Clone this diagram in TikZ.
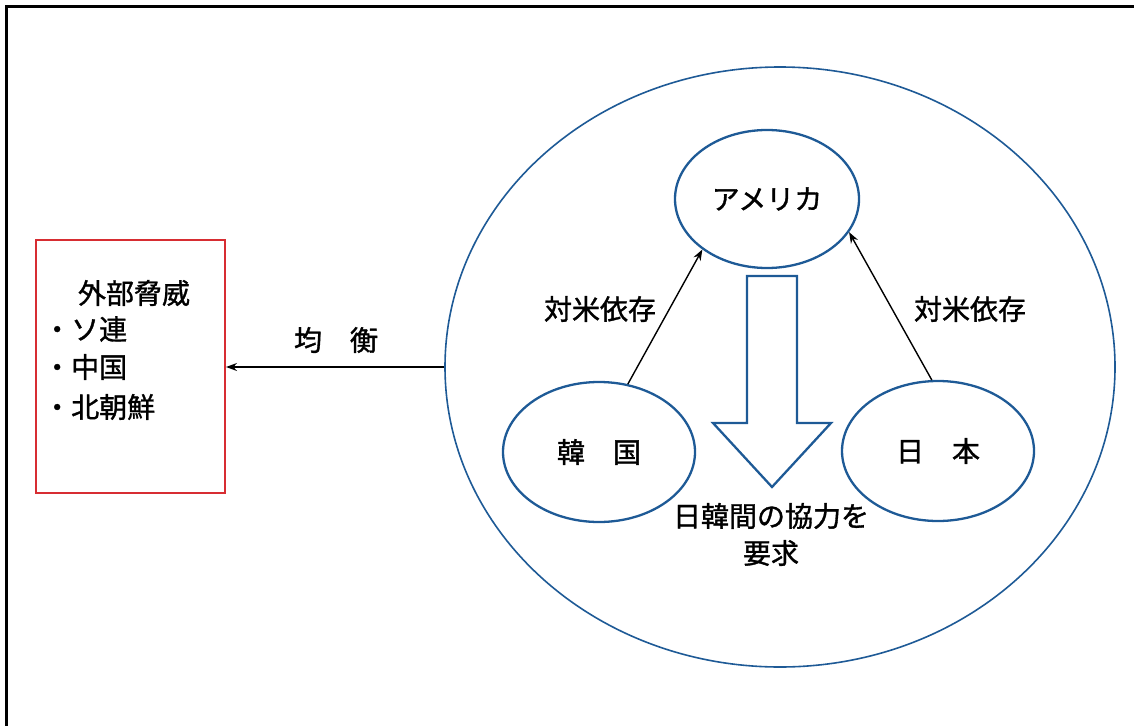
\documentclass[tikz,border=0pt]{standalone}
\usepackage{fontspec}
\newfontfamily\jp[FakeBold=1.2]{Noto Sans CJK JP}
\usetikzlibrary{arrows.meta,shapes.geometric}
\definecolor{cblue}{RGB}{30,90,150}
\definecolor{cred}{RGB}{215,45,50}
\begin{document}
\begin{tikzpicture}[x=1pt,y=-1pt,
  txt/.style={font=\jp\fontsize{28}{32}\selectfont, inner sep=0pt},
  ell/.style={ellipse, draw=cblue, line width=2.3pt, inner sep=0pt, txt},
  arr/.style={black, line width=1.4pt, -{Stealth[length=11pt,width=8pt]}}]
\useasboundingbox (0,0) rectangle (1134,725);
\clip (0,0) rectangle (1134,725);
\draw[line width=3pt] (6.2,7) rectangle (1200,800);
% big circle
\node[ellipse, draw=cblue, line width=1.6pt, minimum width=670pt, minimum height=600pt, inner sep=0pt] (world) at (780,367) {};
% threat box
\node[draw=cred, line width=2pt, minimum width=189pt, minimum height=253pt, inner sep=0pt] (threat) at (130.5,366.5) {};
\node[txt] (title) at (134,293) {外部脅威};
\node[txt, anchor=west] (b1) at (43,329) {・ソ連};
\node[txt, anchor=west] (b2) at (43,367) {・中国};
\node[txt, anchor=west] (b3) at (43,407) {・北朝鮮};
% balance arrow
\draw[arr] (world.west) -- (world.west -| threat.east);
\node[txt] (bal) at (336,340) {均　衡};
% countries
\node[ell, minimum width=184pt, minimum height=138pt] (usa) at (767,199) {アメリカ};
\node[ell, minimum width=192pt, minimum height=140pt] (korea) at (599,452) {韓　国};
\node[ell, minimum width=192pt, minimum height=140pt] (japan) at (938,451) {日　本};
\draw[arr] (korea.67) -- (usa.218);
\draw[arr] (japan.95) -- (usa.-22);
\node[txt] (dep1) at (600,309) {対米依存};
\node[txt] (dep2) at (970,309) {対米依存};
% block arrow
\draw[cblue, line width=2.3pt, line join=miter] (747,276) -- (797,276) -- (797,423) -- (831,423) -- (772,487) -- (713,423) -- (747,423) -- cycle;
\node[txt] (coop) at (771,516) {日韓間の協力を};
\node[txt] (req) at (771,553) {要求};
\end{tikzpicture}
\end{document}
